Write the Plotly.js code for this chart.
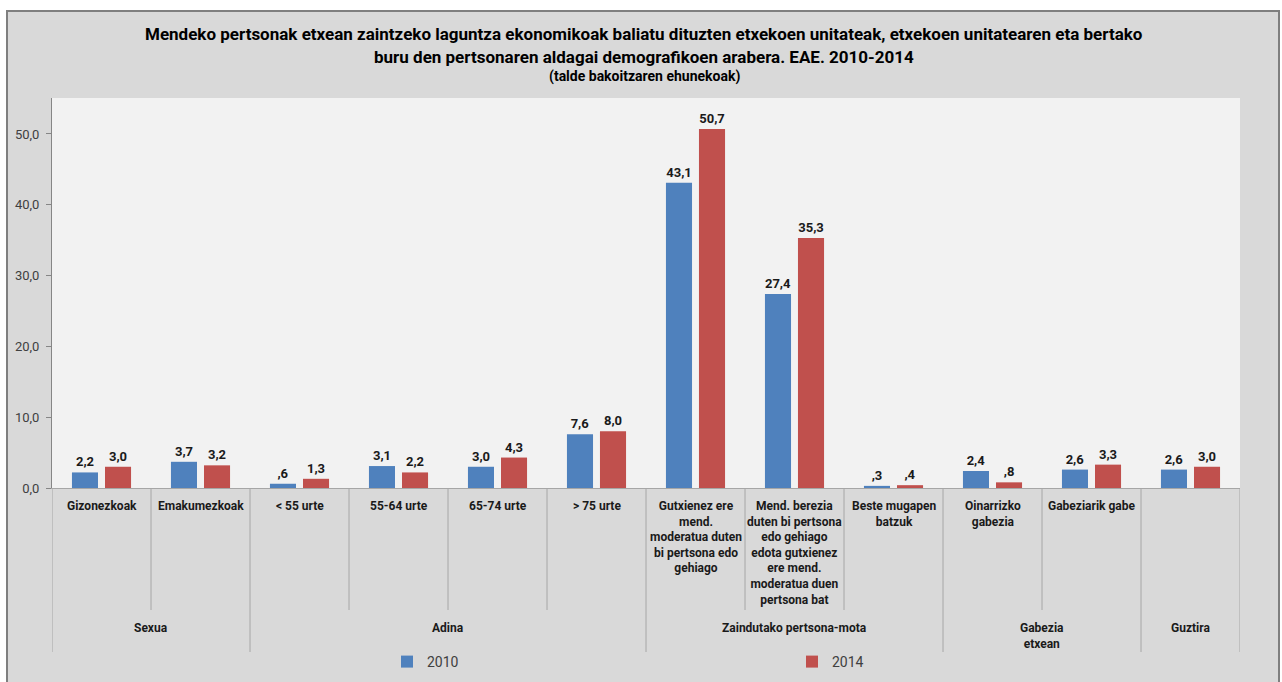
<!DOCTYPE html>
<html>
<head>
<meta charset="utf-8">
<script src="https://cdn.plot.ly/plotly-3.0.1.min.js"></script>
<style>html,body{margin:0;padding:0;background:#fff;}#chart{width:1282px;height:682px;}</style>
</head>
<body>
<div id="chart"></div>
<script>
// ---- data ----
var categories = ["Gizonezkoak", "Emakumezkoak", "< 55 urte", "55-64 urte", "65-74 urte", "> 75 urte",
  "Gutxienez ere mend. moderatua duten bi pertsona edo gehiago",
  "Mend. berezia duten bi pertsona edo gehiago edota gutxienez ere mend. moderatua duen pertsona bat",
  "Beste mugapen batzuk", "Oinarrizko gabezia", "Gabeziarik gabe", "Guztira"];
var categoryLabels = ["Gizonezkoak", "Emakumezkoak", "&lt; 55 urte", "55-64 urte", "65-74 urte", "&gt; 75 urte",
  "Gutxienez ere<br>mend.<br>moderatua duten<br>bi pertsona edo<br>gehiago",
  "Mend. berezia<br>duten bi pertsona<br>edo gehiago<br>edota gutxienez<br>ere mend.<br>moderatua duen<br>pertsona bat",
  "Beste mugapen<br>batzuk", "Oinarrizko<br>gabezia", "Gabeziarik gabe", ""];
var groupNames = ["Sexua", "Adina", "Zaindutako pertsona-mota", "Gabezia<br>etxean", "Guztira"];
var groupStart = [0, 2, 6, 9, 11];
var groupEnd = [1, 5, 8, 10, 11];
var values2010 = [2.2, 3.7, 0.6, 3.1, 3.0, 7.6, 43.1, 27.4, 0.3, 2.4, 2.6, 2.6];
var values2014 = [3.0, 3.2, 1.3, 2.2, 4.3, 8.0, 50.7, 35.3, 0.4, 0.8, 3.3, 3.0];
var seriesNames = ["2010", "2014"];
var yTicks = [0, 10, 20, 30, 40, 50];

// ---- helpers ----
function fmt(v) {
  var s = v.toFixed(1).replace(".", ",");
  if (s.indexOf("0,") === 0) s = s.substring(1);
  return s;
}
var PL = 52, PT = 98, PW = 1188, PH = 390;
function py(p) { return (PT + PH - p) / PH; }   // pixel y -> paper y
function px(p) { return (p - PL) / PW; }        // pixel x -> paper x

var FONT = "Roboto, 'Liberation Sans', Arial, sans-serif";
var colors = ["#4f81bd", "#c0504d"];

var traces = [values2010, values2014].map(function (vals, i) {
  return {
    type: "bar",
    name: seriesNames[i],
    x: categories,
    y: vals,
    text: vals.map(fmt),
    textposition: "outside",
    constraintext: "none",
    cliponaxis: false,
    textfont: { family: FONT, size: 13, color: "#1a1a1a", weight: "bold" },
    marker: { color: colors[i], line: { width: 0 } },
    hoverinfo: "x+y"
  };
});

var shapes = [];
// outer chart frame
shapes.push({ type: "rect", xref: "paper", yref: "paper", layer: "below",
  x0: px(7), x1: px(1279), y0: py(700), y1: py(11),
  fillcolor: "#d9d9d9", line: { color: "#7f7f7f", width: 2 } });
// plot area
shapes.push({ type: "rect", xref: "paper", yref: "paper", layer: "below",
  x0: 0, x1: 1, y0: 0, y1: 1, fillcolor: "#f2f2f2", line: { width: 0 } });

// category dividers (inside groups) and group dividers
var groupBounds = {};
groupStart.forEach(function (s) { groupBounds[s - 0.5] = true; });
groupEnd.forEach(function (e) { groupBounds[e + 0.5] = true; });
for (var k = 0; k <= categories.length; k++) {
  var xb = k - 0.5;
  var isGroup = groupBounds[xb] === true;
  shapes.push({ type: "line", xref: "x", yref: "paper", layer: "above",
    x0: xb, x1: xb, y0: 0, y1: isGroup ? py(652) : py(610),
    line: { color: "#a6a6a6", width: 1 } });
}

var annotations = [];
// category labels
categoryLabels.forEach(function (lab, i) {
  if (!lab) return;
  annotations.push({ xref: "x", yref: "paper", x: i, y: py(497), yanchor: "top", xanchor: "center",
    text: lab, showarrow: false, align: "center",
    font: { family: FONT, size: 12, color: "#1a1a1a", weight: "bold" } });
});
// group labels
groupNames.forEach(function (g, i) {
  annotations.push({ xref: "x", yref: "paper", x: (groupStart[i] + groupEnd[i]) / 2, y: py(619),
    yanchor: "top", xanchor: "center", text: g, showarrow: false, align: "center",
    font: { family: FONT, size: 12, color: "#1a1a1a", weight: "bold" } });
});
// titles
annotations.push({ xref: "paper", yref: "paper", x: px(644), y: py(34), xanchor: "center", yanchor: "middle",
  showarrow: false, text: "Mendeko pertsonak etxean zaintzeko laguntza ekonomikoak baliatu dituzten etxekoen unitateak, etxekoen unitatearen eta bertako",
  font: { family: FONT, size: 17, color: "#000", weight: "bold" } });
annotations.push({ xref: "paper", yref: "paper", x: px(644), y: py(57), xanchor: "center", yanchor: "middle",
  showarrow: false, text: "buru den pertsonaren aldagai demografikoen arabera. EAE. 2010-2014",
  font: { family: FONT, size: 17, color: "#000", weight: "bold" } });
annotations.push({ xref: "paper", yref: "paper", x: px(644), y: py(77), xanchor: "center", yanchor: "middle",
  showarrow: false, text: "(talde bakoitzaren ehunekoak)",
  font: { family: FONT, size: 14, color: "#000", weight: "bold" } });

var layout = {
  width: 1282, height: 682,
  margin: { l: PL, r: 1282 - PL - PW, t: PT, b: 682 - PT - PH, pad: 0, autoexpand: false },
  paper_bgcolor: "#ffffff",
  plot_bgcolor: "rgba(0,0,0,0)",
  separators: ",.",
  barmode: "group",
  bargap: 0.333,
  bargroupgap: 0.21,
  showlegend: true,
  legend: { orientation: "h", x: px(387), xanchor: "left", y: py(662), yanchor: "middle",
    bgcolor: "rgba(0,0,0,0)", entrywidthmode: "pixels", entrywidth: 360,
    font: { family: FONT, size: 14, color: "#404040" }, traceorder: "normal" },
  xaxis: { type: "category", range: [-0.5, 11.5], showticklabels: false, ticks: "",
    showgrid: false, zeroline: false, showline: true, linecolor: "#a6a6a6", linewidth: 1, fixedrange: true },
  yaxis: { range: [0, 55.08], tickvals: yTicks, tickformat: ".1f", ticks: "outside", ticklen: 5,
    tickcolor: "#868686", showgrid: false, zeroline: false, showline: true, linecolor: "#868686", linewidth: 1,
    ticklabelstandoff: 4,
    tickfont: { family: FONT, size: 13, color: "#404040" }, fixedrange: true },
  shapes: shapes,
  annotations: annotations
};

Plotly.newPlot("chart", traces, layout, { displayModeBar: false, staticPlot: true });
</script>
</body>
</html>
